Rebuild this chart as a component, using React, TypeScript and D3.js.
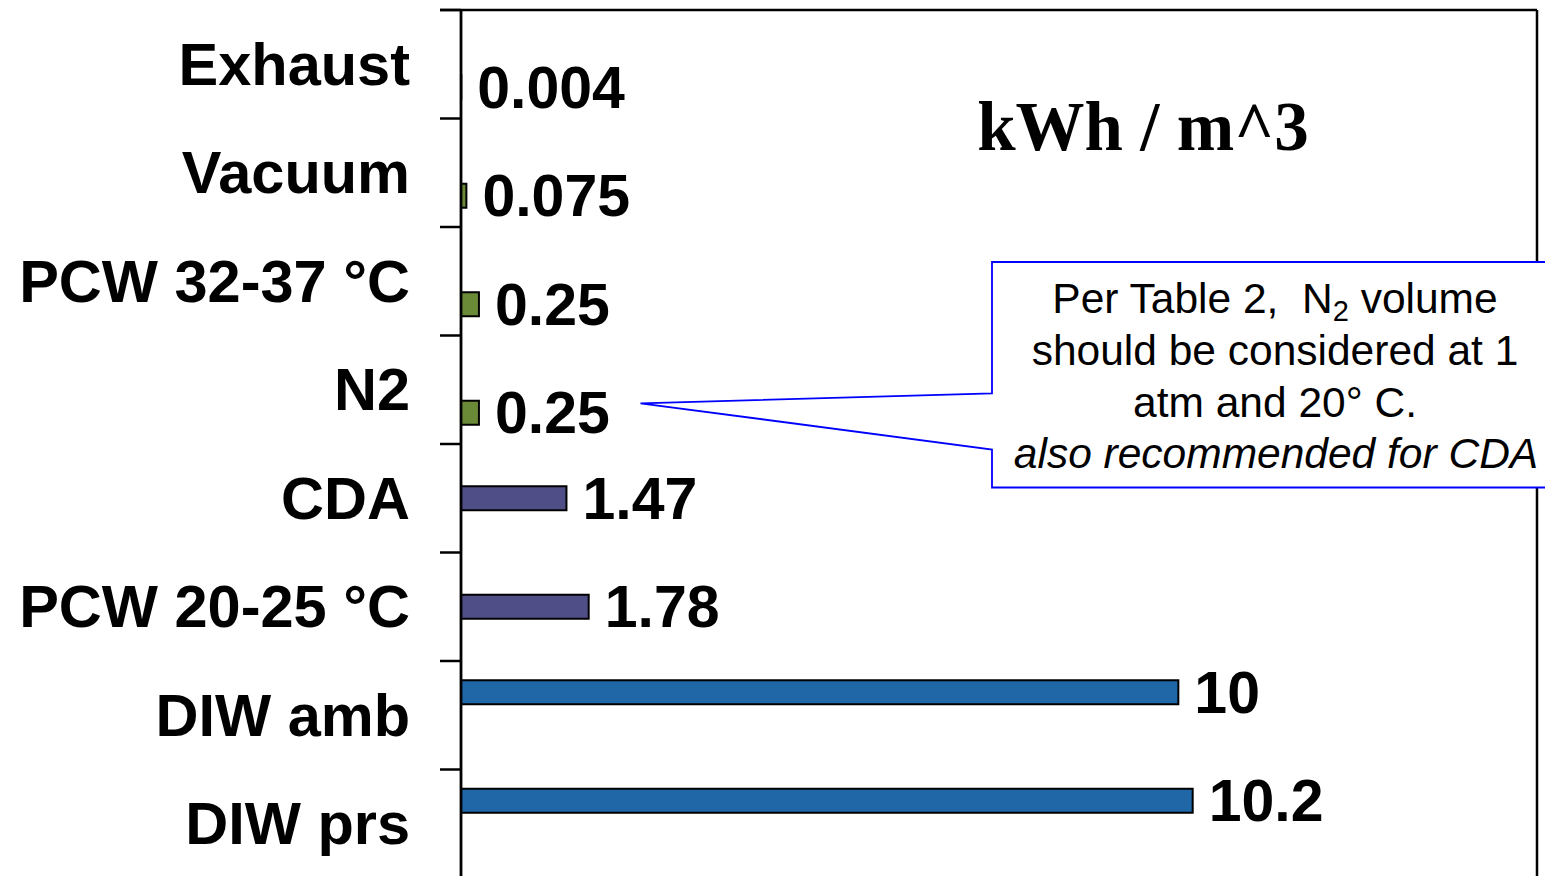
import React from "react";
import * as d3 from "d3";

const categories = ["Exhaust", "Vacuum", "PCW 32-37 °C", "N2", "CDA", "PCW 20-25 °C", "DIW amb", "DIW prs"];
const seriesNames = ["blue", "purple", "green"];
const blueValues: (number | null)[] = [null, null, null, null, null, null, 10, 10.2];
const purpleValues: (number | null)[] = [null, null, null, null, 1.47, 1.78, null, null];
const greenValues: (number | null)[] = [0.004, 0.075, 0.25, 0.25, null, null, null, null];
const seriesColors = ["#1f67a7", "#504e87", "#6b8a37"];
const xDomain = [0, 15];
const unitTitle = "kWh / m^3";
const noteLines = ["should be considered at 1", "atm and 20° C."];
const noteItalic = "also recommended for CDA";

const W = 1545;
const H = 876;
const left = 461;
const right = 1537;
const top = 10;
const bottom = 878;

export default function App() {
  const x = d3.scaleLinear().domain(xDomain).range([left, right]);
  const y = d3.scaleBand<string>().domain(categories).range([top, bottom]).padding(0);
  const inner = d3
    .scaleBand<string>()
    .domain(seriesNames)
    .range([0, y.bandwidth()])
    .paddingInner(0)
    .paddingOuter(0.859);
  const allSeries = [blueValues, purpleValues, greenValues];
  const labelFont = "'Liberation Sans', Arial, sans-serif";
  const tickYs = categories.map((c) => y(c)!).concat([bottom]);

  return (
    <svg
      width={W}
      height={H}
      style={{ position: "absolute", left: 0, top: 0, display: "block", background: "#fff" }}
    >
      {/* bars */}
      {allSeries.map((vals, si) =>
        vals.map((v, ci) => {
          if (v == null) return null;
          const cy = y(categories[ci])! + inner(seriesNames[si])!;
          const h = inner.bandwidth();
          return (
            <g key={`b${si}-${ci}`}>
              <rect
                x={x(0)}
                y={cy - 0.5}
                width={x(v) - x(0)}
                height={h + 1}
                fill={seriesColors[si]}
                stroke="#000"
                strokeWidth={2}
              />
              <text
                x={x(v) + 16}
                y={cy + h / 2 + 20.5}
                fontFamily={labelFont}
                fontWeight="bold"
                fontSize={59}
                fill="#000"
              >
                {String(v)}
              </text>
            </g>
          );
        })
      )}

      {/* frame */}
      <line x1={440} x2={right} y1={top} y2={top} stroke="#000" strokeWidth={2.5} />
      <line x1={right} x2={right} y1={top} y2={H + 5} stroke="#000" strokeWidth={2.5} />
      <line x1={left} x2={left} y1={top} y2={H + 5} stroke="#000" strokeWidth={2.8} />
      {tickYs.map((ty, i) => (
        <line key={`t${i}`} x1={440} x2={left} y1={ty} y2={ty} stroke="#000" strokeWidth={2.5} />
      ))}

      {/* category labels */}
      {categories.map((c) => (
        <text
          key={c}
          x={410}
          y={y(c)! + y.bandwidth() / 2 + 20.5}
          textAnchor="end"
          fontFamily={labelFont}
          fontWeight="bold"
          fontSize={59.5}
          fill="#000"
          style={{ whiteSpace: "pre" }}
        >
          {c}
        </text>
      ))}

      {/* unit title */}
      <text
        x={1143}
        y={150}
        textAnchor="middle"
        fontFamily="'Liberation Serif', 'Times New Roman', serif"
        fontWeight="bold"
        fontSize={69}
        fill="#000"
      >
        {unitTitle}
      </text>

      {/* callout */}
      <path
        d={`M992,262 L1570,262 L1570,487.5 L992,487.5 L992,449.5 L640.5,403.3 L992,393.3 Z`}
        fill="#fff"
        stroke="#0000ff"
        strokeWidth={1.8}
        strokeLinejoin="miter"
      />
      <g fontFamily={labelFont} fontSize={42.5} fill="#000" textAnchor="middle">
        <text x={1275} y={313} style={{ whiteSpace: "pre" }}>
          {"Per Table 2,  N"}
          <tspan fontSize={29} dy={8}>2</tspan>
          <tspan dy={-8}>{" volume"}</tspan>
        </text>
        {noteLines.map((l, i) => (
          <text key={l} x={1275} y={365 + i * 51.5}>
            {l}
          </text>
        ))}
        <text x={1276} y={468} fontStyle="italic">
          {noteItalic}
        </text>
      </g>
    </svg>
  );
}
